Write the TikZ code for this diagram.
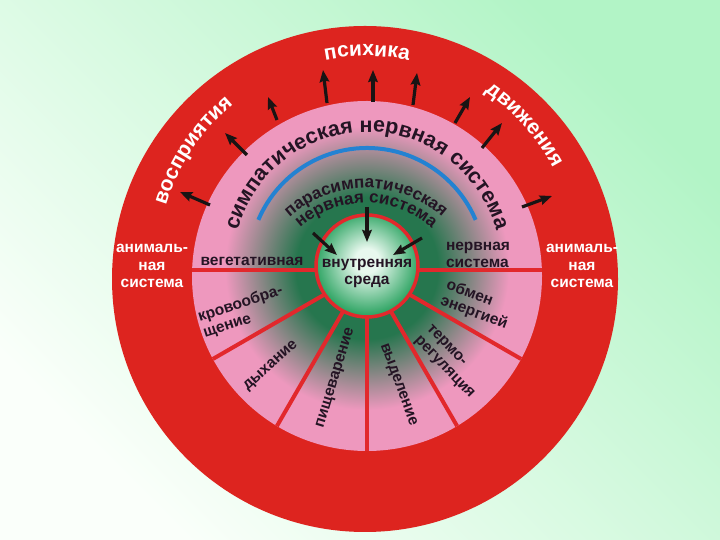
\documentclass[tikz,border=0pt]{standalone}
\usepackage{fontspec}
\setmainfont{Liberation Sans}
\usetikzlibrary{decorations.text,arrows.meta}
\definecolor{redc}{RGB}{221,36,31}
\definecolor{pinkc}{RGB}{238,152,190}
\definecolor{spokec}{RGB}{226,40,44}
\definecolor{bluec}{RGB}{35,130,210}
\definecolor{glowc}{RGB}{38,118,78}
\definecolor{sphL}{RGB}{232,248,238}
\definecolor{sphD}{RGB}{50,166,102}
\definecolor{txt}{RGB}{36,20,36}
\definecolor{arrc}{RGB}{25,20,20}
\definecolor{bgW}{RGB}{250,255,250}
\definecolor{bgG}{RGB}{178,244,198}
\pgfdeclareradialshading{glowshade}{\pgfpointorigin}{color(0bp)=(glowc); color(12.5bp)=(glowc); color(25bp)=(pinkc); color(50bp)=(pinkc)}
\pgfdeclareradialshading{sphereshade}{\pgfpoint{0bp}{3bp}}{color(0bp)=(sphL); color(6bp)=(sphL); color(25bp)=(sphD); color(50bp)=(sphD)}
\begin{document}
\begin{tikzpicture}[x=1pt,y=1pt,
  lbl/.style={text=txt, font=\bfseries\fontsize{15.5}{17}\selectfont, align=left, inner sep=0pt},
  wlbl/.style={text=white, font=\bfseries\fontsize{15.5}{17.5}\selectfont, align=center, inner sep=0pt},
  arr/.style={line width=3.2pt, draw=arrc, -{Stealth[length=12pt,width=9.5pt,inset=1.5pt]}},
  ringtxt/.style={decorate, decoration={text along path, text align=center, text={|\bfseries\fontsize{21}{24}\selectfont\color{white}|#1}}}
]
\useasboundingbox (0,0) rectangle (720,540);
\shade[top color=bgW, bottom color=bgG, shading angle=135] (0,0) rectangle (720,540);
% discs
\fill[redc] (365,261) circle (253);
\fill[pinkc] (367,264) circle (175);
\begin{scope}
  \clip (367,264) circle (175);
  \shade[shading=glowshade] (367,272) circle (142);
  \foreach \a in {0,180,210,240,270,300,330}
    \draw[spokec, line width=4pt] (367,270) -- ++(\a:220);
\end{scope}
% inner sphere
\node[circle, minimum size=102pt, inner sep=0pt, shading=sphereshade, draw=spokec, line width=3.5pt] (core) at (367,274) {};
% blue arc
\draw[bluec, line width=4pt] ([shift={(157:118)}]367,274) arc[start angle=157, end angle=23, radius=118];
% curved texts
\path[decorate, decoration={text along path, text align=center, text={|\bfseries\fontsize{21.5}{24}\selectfont\color{txt}|симпатическая нервная система}}]
  ([shift={(172:134)}]367,274) arc[start angle=172, end angle=8, radius=134];
\path[decorate, decoration={text along path, text align=center, text={|\bfseries\fontsize{17}{20}\selectfont\color{txt}|парасимпатическая}}]
  ([shift={(150:114)}]366,238) arc[start angle=150, end angle=30, radius=114];
\path[decorate, decoration={text along path, text align=center, text={|\bfseries\fontsize{17}{20}\selectfont\color{txt}|нервная система}}]
  ([shift={(150:99)}]366,238) arc[start angle=150, end angle=30, radius=99];
\path[ringtxt=психика] ([shift={(110:210)}]367,274) arc[start angle=110, end angle=70, radius=210];
\path[ringtxt=восприятия] ([shift={(176.4:210)}]367,274) arc[start angle=176.4, end angle=116.4, radius=210];
\path[ringtxt=движения] ([shift={(71.8:210)}]367,274) arc[start angle=71.8, end angle=11.8, radius=210];
% labels
\node[lbl] (veg) at (252,279) {вегетативная};
\node[lbl] (nerv) at (478,285) {нервная\\система};
\node[lbl, rotate=-20] (obm) at (477,235) {обмен\\энергией};
\node[lbl, rotate=18] (krov) at (243,228) {кровообра-\\щение};
\node[lbl, rotate=42] (dyh) at (271,174) {дыхание};
\node[lbl, rotate=73] (pishch) at (336,162) {пищеварение};
\node[lbl, rotate=-70] (vyd) at (398,155) {выделение};
\node[lbl, rotate=-46] (term) at (450,178) {термо-\\регуляция};
\node[lbl, align=center] (coretxt) at (367,267) {внутренняя\\среда};
\node[wlbl] (anL) at (152,274) {анималь-\\ная\\система};
\node[wlbl] (anR) at (582,274) {анималь-\\ная\\система};
% outer arrows
\foreach \tx/\ty/\hx/\hy [count=\i] in {210/335/180/348, 247/385/225/407, 277/420/268/443, 327/437/323/470, 373/438/373/470, 413/435/417/467, 455/417/470/443, 482/392/502/417, 522/333/552/344} {
  \coordinate (t\i) at (\tx,\ty);
  \coordinate (h\i) at (\hx,\hy);
  \draw[arr] (t\i) -- (h\i);
}
% inner arrows
\coordinate (it1) at (367,333); \coordinate (ih1) at (367,298);
\coordinate (it2) at (313,307); \coordinate (ih2) at (337,285);
\coordinate (it3) at (422,302); \coordinate (ih3) at (393,285);
\draw[arr] (it1) -- (ih1);
\draw[arr] (it2) -- (ih2);
\draw[arr] (it3) -- (ih3);
\end{tikzpicture}
\end{document}
